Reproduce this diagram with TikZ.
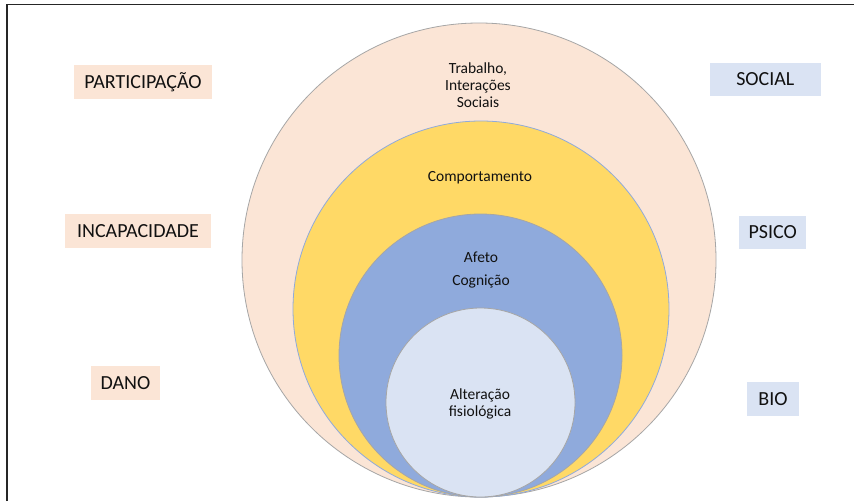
\documentclass[tikz,border=0pt]{standalone}
\usepackage{fontspec}
\setmainfont{Carlito}
\definecolor{peach}{HTML}{FBE5D6}
\definecolor{paleblue}{HTML}{DAE3F3}
\definecolor{gold}{HTML}{FFD966}
\definecolor{midblue}{HTML}{8FAADC}
\definecolor{ringgray}{HTML}{A6A6A6}
\definecolor{txt}{HTML}{111111}
\begin{document}
\begin{tikzpicture}[x=1pt,y=-1pt,
  lab/.style={minimum height=33.5pt,inner sep=0pt,text=txt,font=\fontsize{20}{22}\selectfont},
  ptag/.style={lab,fill=peach},
  btag/.style={lab,fill=paleblue},
  small/.style={text=txt,font=\fontsize{15.5}{17}\selectfont,align=center,inner sep=0pt}]
\useasboundingbox (0,0) rectangle (854,501);
\fill[white] (0,0) rectangle (854,501);
% frame
\draw[line width=1.8pt,black!85] (7,501) coordinate (fb) -- (7,4.5) coordinate (fc) -- (854,4.5) coordinate (fr);
% circles
\draw[fill=peach,draw=ringgray,line width=0.8pt] (479,260) circle[radius=237pt];
\draw[fill=gold,draw=midblue,line width=0.8pt] (481,309) circle[radius=188pt];
\draw[fill=midblue,draw=ringgray,line width=0.8pt] (480.5,355.5) circle[radius=141.5pt];
\draw[fill=paleblue,draw=ringgray,line width=0.8pt] (480.5,402.5) circle[radius=94.5pt];
% circle texts
\node[small] (trab) at (478,85) {Trabalho,\\Interações\\Sociais};
\node[small] (comp) at (480,178) {Comportamento};
\node[small] (afeto) at (481,257) {Afeto};
\node[small] (cogn) at (481,281) {Cognição};
\node[small] (alt) at (480,404) {Alteração\\fisiológica};
% side labels
\node[ptag,minimum width=138pt] (part) at (143,82) {PARTICIPAÇÃO};
\node[ptag,minimum width=146pt] (incap) at (138,231) {INCAPACIDADE};
\node[ptag,minimum width=69pt] (dano) at (125.5,383) {DANO};
\node[btag,minimum width=111pt] (social) at (765.3,79.3) {SOCIAL};
\node[btag,minimum width=67pt] (psico) at (772.7,232.3) {PSICO};
\node[btag,minimum width=52pt] (bio) at (773,399) {BIO};
\end{tikzpicture}
\end{document}
